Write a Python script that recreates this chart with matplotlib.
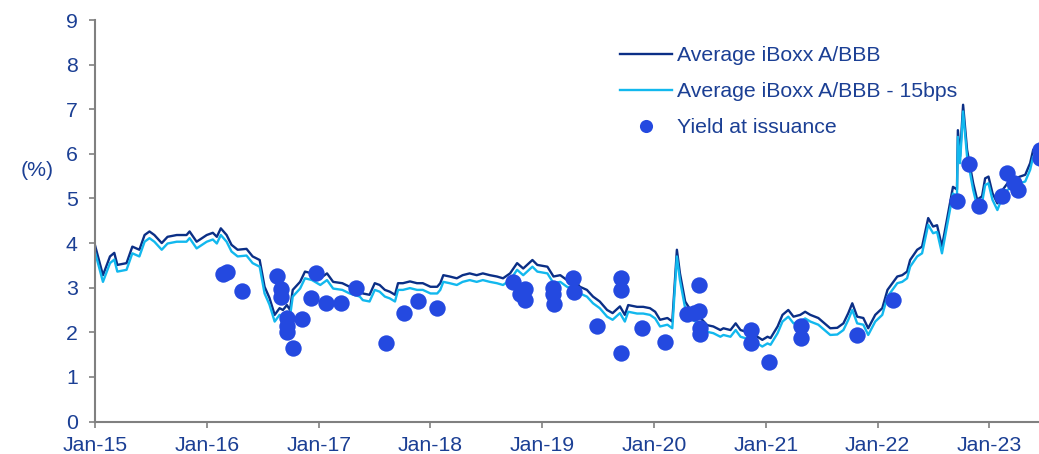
import numpy as np
import pandas as pd
import matplotlib

matplotlib.use('Agg')

import matplotlib.pyplot as plt
import matplotlib.dates as mdates

plt.rcParams['font.family'] = ['Liberation Sans', 'DejaVu Sans']

# average iBoxx A/BBB yield (%)
avg_dates = [
    '2015-01-01', '2015-01-27', '2015-02-19', '2015-03-05', '2015-03-15', '2015-04-14',
    '2015-05-03', '2015-05-26', '2015-06-12', '2015-06-28', '2015-07-14', '2015-08-07',
    '2015-08-26', '2015-09-25', '2015-10-27', '2015-11-06', '2015-11-29', '2016-01-01',
    '2016-01-21', '2016-02-03', '2016-02-16', '2016-03-06', '2016-03-22', '2016-04-11',
    '2016-05-10', '2016-05-30', '2016-06-22', '2016-07-08', '2016-07-24', '2016-08-10',
    '2016-08-26', '2016-09-06', '2016-09-19', '2016-09-29', '2016-10-08', '2016-11-01',
    '2016-11-17', '2016-12-10', '2017-01-06', '2017-01-28', '2017-02-17', '2017-03-19',
    '2017-04-12', '2017-05-15', '2017-05-25', '2017-06-16', '2017-07-03', '2017-07-19',
    '2017-08-05', '2017-08-21', '2017-09-07', '2017-09-17', '2017-10-03', '2017-10-26',
    '2017-11-18', '2017-12-07', '2018-01-01', '2018-01-23', '2018-02-02', '2018-02-12',
    '2018-03-05', '2018-03-28', '2018-04-16', '2018-05-09', '2018-06-01', '2018-06-21',
    '2018-07-14', '2018-08-06', '2018-08-26', '2018-09-18', '2018-10-11', '2018-10-31',
    '2018-11-30', '2018-12-16', '2019-01-18', '2019-02-07', '2019-03-01', '2019-03-23',
    '2019-04-25', '2019-05-04', '2019-05-27', '2019-06-16', '2019-07-08', '2019-08-01',
    '2019-08-19', '2019-09-12', '2019-09-28', '2019-10-09', '2019-11-07', '2019-11-27',
    '2019-12-19', '2020-01-05', '2020-01-21', '2020-02-14', '2020-03-01', '2020-03-16',
    '2020-03-26', '2020-04-12', '2020-05-06', '2020-06-01', '2020-06-23', '2020-07-13',
    '2020-08-05', '2020-08-15', '2020-09-07', '2020-09-24', '2020-10-10', '2020-11-12',
    '2020-12-04', '2020-12-20', '2021-01-06', '2021-01-16', '2021-02-08', '2021-02-24',
    '2021-03-15', '2021-04-01', '2021-04-23', '2021-05-09', '2021-05-26', '2021-06-21',
    '2021-07-30', '2021-08-22', '2021-09-11', '2021-09-27', '2021-10-10', '2021-10-26',
    '2021-11-15', '2021-12-01', '2021-12-24', '2022-01-16', '2022-02-02', '2022-02-18',
    '2022-03-06', '2022-03-22', '2022-04-07', '2022-04-17', '2022-05-10', '2022-05-26',
    '2022-06-15', '2022-07-01', '2022-07-14', '2022-07-30', '2022-08-19', '2022-09-04',
    '2022-09-17', '2022-09-20', '2022-09-27', '2022-10-07', '2022-10-20', '2022-10-30',
    '2022-11-09', '2022-11-22', '2022-12-08', '2022-12-18', '2022-12-29', '2023-01-11',
    '2023-01-27', '2023-02-13', '2023-03-01', '2023-03-19', '2023-04-11', '2023-04-28',
    '2023-05-14', '2023-05-24', '2023-06-12',
]
avg_yield = [
    3.95, 3.28, 3.70, 3.78, 3.51, 3.55,
    3.92, 3.85, 4.18, 4.26, 4.18, 4.00,
    4.14, 4.18, 4.18, 4.26, 4.03, 4.18,
    4.23, 4.14, 4.33, 4.18, 3.96, 3.85,
    3.87, 3.70, 3.62, 3.02, 2.77, 2.39,
    2.54, 2.50, 2.61, 2.50, 2.95, 3.13,
    3.36, 3.32, 3.21, 3.32, 3.13, 3.10,
    3.02, 2.95, 2.87, 2.84, 3.10, 3.06,
    2.95, 2.91, 2.84, 3.10, 3.10, 3.14,
    3.10, 3.10, 3.02, 3.02, 3.10, 3.28,
    3.25, 3.21, 3.28, 3.32, 3.28, 3.32,
    3.28, 3.25, 3.21, 3.32, 3.55, 3.43,
    3.62, 3.51, 3.47, 3.25, 3.28, 3.17,
    3.10, 3.02, 2.95, 2.80, 2.69, 2.50,
    2.43, 2.58, 2.39, 2.61, 2.57, 2.57,
    2.54, 2.46, 2.28, 2.32, 2.24, 3.85,
    3.32, 2.69, 2.43, 2.32, 2.16, 2.13,
    2.05, 2.09, 2.05, 2.20, 2.05, 1.98,
    1.90, 1.83, 1.90, 1.87, 2.13, 2.39,
    2.50, 2.35, 2.39, 2.46, 2.39, 2.32,
    2.09, 2.10, 2.20, 2.43, 2.65, 2.35,
    2.32, 2.09, 2.39, 2.54, 2.95, 3.10,
    3.25, 3.28, 3.36, 3.62, 3.85, 3.92,
    4.56, 4.37, 4.40, 3.92, 4.67, 5.26,
    5.20, 6.53, 5.94, 7.10, 6.09, 5.71,
    5.34, 4.97, 5.05, 5.45, 5.49, 5.12,
    4.89, 5.19, 5.34, 5.42, 5.49, 5.53,
    5.79, 6.09, 6.00,
]
spread_cut = 0.15  # 15bps

# yield at issuance (%)
issue_dates = [
    '2016-02-22', '2016-03-07', '2016-04-26', '2016-08-19', '2016-08-30', '2016-08-30',
    '2016-09-20', '2016-09-20', '2016-09-20', '2016-10-10', '2016-11-06', '2016-12-06',
    '2016-12-23', '2017-01-24', '2017-03-14', '2017-05-03', '2017-08-09', '2017-10-05',
    '2017-11-21', '2018-01-23', '2018-09-27', '2018-10-21', '2018-11-06', '2018-11-06',
    '2019-02-05', '2019-02-05', '2019-02-10', '2019-04-11', '2019-04-15', '2019-06-30',
    '2019-09-15', '2019-09-15', '2019-09-15', '2019-11-23', '2020-02-07', '2020-04-18',
    '2020-05-10', '2020-05-28', '2020-05-28', '2020-06-01', '2020-06-01', '2020-11-12',
    '2020-11-12', '2021-01-10', '2021-04-27', '2021-04-27', '2021-10-26', '2022-02-19',
    '2022-09-16', '2022-10-27', '2022-11-28', '2023-02-12', '2023-02-26', '2023-03-23',
    '2023-04-03', '2023-06-16', '2023-06-16',
]
issue_yield = [
    3.30, 3.35, 2.93, 3.27, 2.96, 2.78,
    2.32, 2.15, 2.00, 1.64, 2.30, 2.77,
    3.32, 2.66, 2.66, 2.99, 1.75, 2.43,
    2.70, 2.54, 3.12, 2.85, 2.98, 2.73,
    2.99, 2.86, 2.63, 3.22, 2.91, 2.13,
    3.21, 2.95, 1.54, 2.09, 1.78, 2.41,
    2.44, 2.48, 3.06, 2.09, 1.96, 2.05,
    1.75, 1.34, 2.14, 1.87, 1.94, 2.72,
    4.95, 5.77, 4.83, 5.06, 5.56, 5.34,
    5.19, 6.09, 5.90,
]

navy = '#0b2f86'
cyan = '#12b8ee'
dot_blue = '#2449e0'
text_blue = '#1b3f94'
axis_grey = '#808080'
fs = 15.3

t_avg = pd.to_datetime(avg_dates)
y_avg = np.array(avg_yield)
t_iss = pd.to_datetime(issue_dates)

fig = plt.figure(figsize=(10.39, 4.54), dpi=100)
ax = fig.add_axes([95 / 1039, 1 - 421.5 / 454, 1 - 95 / 1039, (421.5 - 20) / 454])

ax.plot(t_avg, y_avg, color=navy, lw=1.7, label='Average iBoxx A/BBB')
ax.plot(t_avg, y_avg - spread_cut, color=cyan, lw=1.7, label='Average iBoxx A/BBB - 15bps')
ax.plot(t_iss, issue_yield, 'o', color=dot_blue, ms=11.8, mec='none', label='Yield at issuance')

ax.set_ylim(0, 9)
ax.set_yticks(range(0, 10))
ax.set_xlim(pd.Timestamp('2015-01-01'), pd.Timestamp('2023-06-12'))
ax.xaxis.set_major_locator(mdates.YearLocator())
ax.xaxis.set_major_formatter(mdates.DateFormatter('%b-%y'))

for s in ['top', 'right']:
    ax.spines[s].set_visible(False)
for s in ['left', 'bottom']:
    ax.spines[s].set_color(axis_grey)
    ax.spines[s].set_linewidth(1.5)

ax.tick_params(axis='both', colors=axis_grey, labelcolor=text_blue, labelsize=fs,
               length=4.5, width=1.2)
ax.tick_params(axis='y', pad=8)
ax.tick_params(axis='x', pad=6)

fig.text(37 / 1039, 1 - 170 / 454, '(%)', ha='center', va='center',
         color=text_blue, fontsize=fs)

leg = ax.legend(loc='upper left', bbox_to_anchor=(620 / 1039, 1 - 46 / 454),
                bbox_transform=fig.transFigure, frameon=False, fontsize=fs,
                handlelength=2.45, handletextpad=0.25, labelspacing=0.8,
                borderpad=0, borderaxespad=0, markerscale=0.8)
for txt in leg.get_texts():
    txt.set_color(text_blue)

fig.savefig('out.png', dpi=100)
